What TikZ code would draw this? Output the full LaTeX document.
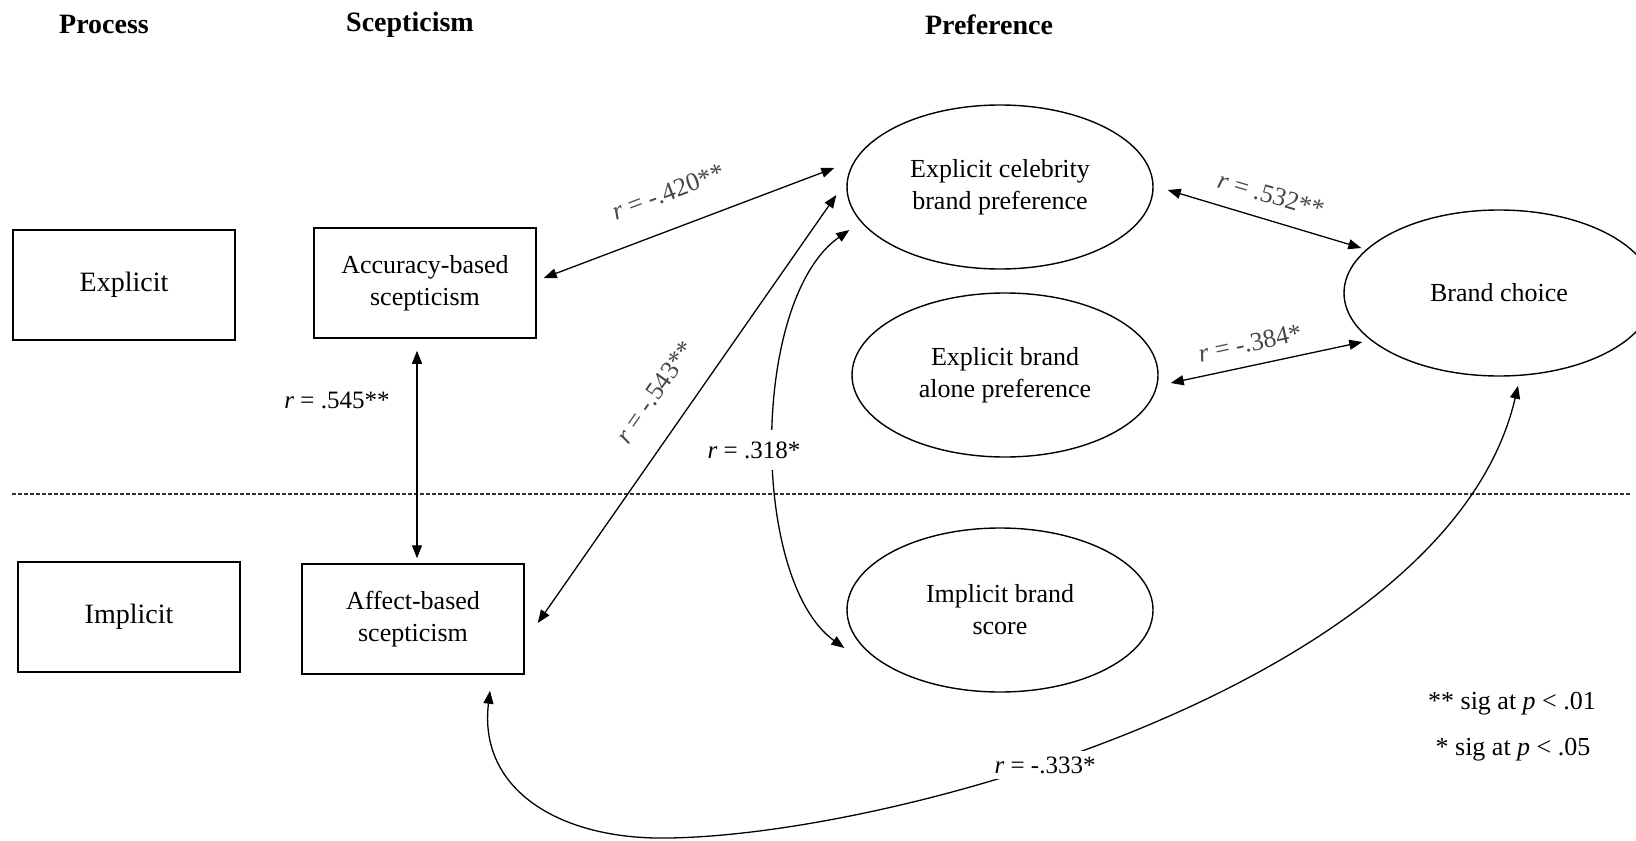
\documentclass[tikz,border=0pt]{standalone}
\usepackage{fontspec}
\setmainfont{Liberation Serif}
\usetikzlibrary{arrows.meta,calc,shapes.geometric}

\begin{document}
\begin{tikzpicture}[x=0.5pt,y=-0.5pt,
  txt/.style={font=\fontsize{13}{16}\selectfont, align=center},
  bigtxt/.style={font=\fontsize{14}{16}\selectfont, align=center},
  box/.style={draw, line width=0.75pt, minimum width=111pt, minimum height=55pt, inner sep=0pt},
  ell/.style={draw, ellipse, line width=0.7pt, minimum width=153pt, minimum height=82pt, inner sep=0pt, txt},
  head/.style={font=\fontsize{14}{16}\selectfont\bfseries},
  link/.style={{Triangle[length=6.5pt,width=5pt]}-{Triangle[length=6.5pt,width=5pt]}, line width=0.65pt},
  lab/.style={font=\fontsize{12.5}{15}\selectfont},
  rlab/.style={font=\fontsize{13}{15}\selectfont, text=black!72},
  divider/.style={line width=0.6pt, black!80, dash pattern=on 2pt off 1pt},
]
\useasboundingbox (0,0) rectangle (1636,840);

% column headings
\node[head] (hproc) at (104,24) {Process};
\node[head] (hscep) at (410,25) {Scepticism};
\node[head] (hpref) at (989,25) {Preference};

% process boxes
\node[box, bigtxt] (expl) at (124,285) {Explicit};
\node[box, bigtxt] (impl) at (129,617) {Implicit};

% scepticism boxes
\node[box, txt] (acc) at (425,283) {Accuracy-based\\scepticism};
\node[box, txt] (aff) at (413,619) {Affect-based\\scepticism};

% preference ellipses
\node[ell] (cel) at (1000,187) {Explicit celebrity\\brand preference};
\node[ell] (alone) at (1005,375) {Explicit brand\\alone preference};
\node[ell] (score) at (1000,610) {Implicit brand\\score};
\node[ell, minimum width=155pt, minimum height=83pt] (choice) at (1499,293) {Brand choice};

% explicit / implicit divider
\coordinate (dl) at (12,494);
\coordinate (dr) at (1630,494);
\draw[divider] (dl) -- (dr);

% correlations
\draw[link] ($(acc.south)+(-8,12)$) -- ($(aff.north)+(4,-5)$);
\node[lab] (l545) at (337,400) {\textit{r} = .545**};

\draw[link] ($(acc.east)+(7,-5)$) -- ($(cel.west)+(-12,-19)$);
\node[rlab, rotate=20.6] (l420) at (668,192) {\textit{r} = -.420**};

\draw[link] ($(aff.east)+(13,4)$) -- ($(cel.west)+(-10,8)$);
\node[rlab, rotate=55] (l543) at (655,392) {\textit{r} = -.543**};

\draw[link] ($(cel.west)+(3,43)$) .. controls (750,300) and (750,580) .. ($(score.west)+(-2,38)$);
\node[lab, fill=white, inner xsep=1pt, inner ysep=6pt] (l318) at (754,450) {\textit{r} = .318*};

\draw[link] ($(cel.east)+(14,3)$) -- ($(choice.west)+(18,-45)$);
\node[rlab, rotate=-16.6] (l532) at (1271,195) {\textit{r} = .532**};

\draw[link] ($(alone.east)+(12,8)$) -- ($(choice.west)+(19,49)$);
\node[rlab, rotate=12] (l384) at (1250,343) {\textit{r} = -.384*};

\coordinate (low) at (668,838);
\draw[link] ($(aff.south)+(77,16)$) .. controls (478,790) and (560,840) .. (low)
  .. controls (900,835) and (1450,680) .. ($(choice.south)+(19,9)$);
\node[lab, fill=white, inner xsep=6pt, inner ysep=3pt] (l333) at (1045,765) {\textit{r} = -.333*};

% significance key
\node[lab, font=\fontsize{13}{15}\selectfont] (key1) at (1512,704) {** sig at \textit{p} < .01};
\node[lab, font=\fontsize{13}{15}\selectfont] (key2) at (1513,750) {* sig at \textit{p} < .05};
\end{tikzpicture}
\end{document}
